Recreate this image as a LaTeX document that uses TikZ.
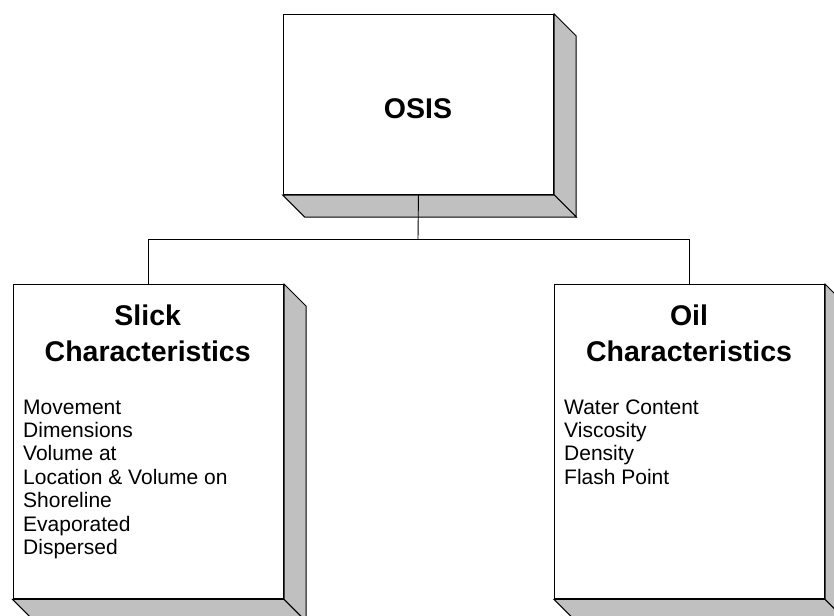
\documentclass[tikz,border=0pt]{standalone}
\usepackage{fontspec}
\setmainfont{Liberation Sans}
\definecolor{shade}{HTML}{C0C0C0}
\tikzset{
  face/.style={draw=black, line width=1pt, fill=white, rectangle, inner sep=0pt, anchor=north west},
  shadowface/.style={draw=black, line width=1pt, fill=shade, line join=miter},
  link/.style={draw=black, line width=0.9pt},
  titletext/.style={font=\bfseries\fontsize{28.5}{36.5}\selectfont, align=center, anchor=base, inner sep=0pt},
  listtext/.style={font=\fontsize{21}{23.4}\selectfont, align=left, anchor=base west, inner sep=0pt},
}
\begin{document}
\begin{tikzpicture}[x=1pt, y=-1pt]
\useasboundingbox (0,0) rectangle (834,615);
\clip (0,0) rectangle (834,615);
% front faces
\node[face, minimum width=270.5pt, minimum height=180pt] (osis) at (282.7,14) {};
\node[face, minimum width=270.5pt, minimum height=314.3pt] (slick) at (12.5,284) {};
\node[face, minimum width=270pt, minimum height=314.3pt] (oil) at (554,284) {};
% 3D sides
\foreach \b in {osis,slick,oil}{
  \draw[shadowface] (\b.north east) -- ++(22,22) -- ([shift={(22pt,-22pt)}]\b.south east) -- (\b.south east) -- cycle;
  \draw[shadowface] (\b.south west) -- ++(22,22) -- ([shift={(22pt,-22pt)}]\b.south east) -- (\b.south east) -- cycle;
}
% connectors
\coordinate (bus) at (418,239.3);
\draw[link] (osis.south) -- (bus);
\draw[link] (slick.north) |- (bus) -| (oil.north);
% texts (base anchor = baseline of the last line)
\node[titletext] (osislabel) at (418,118) {OSIS};
\node[titletext] (slicktitle) at (147.7,361.5) {Slick\\Characteristics};
\node[titletext] (oiltitle) at (689,361.5) {Oil\\Characteristics};
\node[listtext] (slicklist) at (23,554.4) {Movement\\Dimensions\\Volume at\\Location \& Volume on\\Shoreline\\Evaporated\\Dispersed};
\node[listtext] (oillist) at (564,484.2) {Water Content\\Viscosity\\Density\\Flash Point};
\end{tikzpicture}
\end{document}
